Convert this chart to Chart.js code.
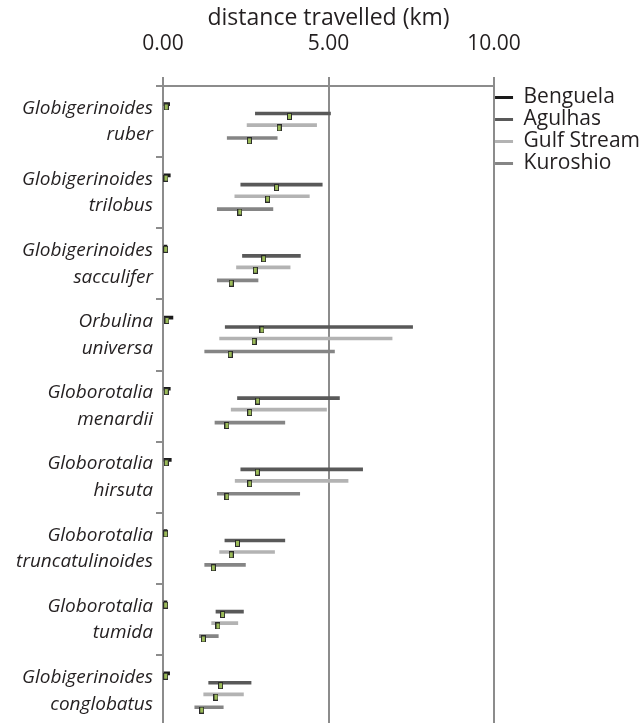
<!DOCTYPE html>
<html>
<head>
<meta charset="utf-8">
<script src="https://cdn.jsdelivr.net/npm/chart.js@4/dist/chart.umd.min.js"></script>
<style>
  html, body { margin: 0; padding: 0; background: #fff; overflow: hidden; }
  canvas { display: block; }
</style>
</head>
<body>
<canvas id="chart" width="639" height="756"></canvas>
<script>
// species (two-line labels)
const species = [
  ["Globigerinoides", "ruber"],
  ["Globigerinoides", "trilobus"],
  ["Globigerinoides", "sacculifer"],
  ["Orbulina", "universa"],
  ["Globorotalia", "menardii"],
  ["Globorotalia", "hirsuta"],
  ["Globorotalia", "truncatulinoides"],
  ["Globorotalia", "tumida"],
  ["Globigerinoides", "conglobatus"]
];
const currents = ["Benguela", "Agulhas", "Gulf Stream", "Kuroshio"];

// distance travelled (km): range min / max and the marker value
const benguelaMin  = [0.03, 0.03, 0.03, 0.04, 0.03, 0.03, 0.03, 0.03, 0.03];
const benguelaMax  = [0.20, 0.22, 0.12, 0.30, 0.22, 0.25, 0.12, 0.12, 0.20];
const benguelaMean = [0.10, 0.09, 0.08, 0.12, 0.10, 0.10, 0.08, 0.08, 0.08];

const agulhasMin  = [2.79, 2.35, 2.40, 1.88, 2.25, 2.35, 1.87, 1.60, 1.38];
const agulhasMax  = [5.06, 4.81, 4.15, 7.54, 5.33, 6.03, 3.68, 2.43, 2.66];
const agulhasMean = [3.82, 3.43, 3.04, 2.99, 2.86, 2.85, 2.25, 1.80, 1.74];

const gulfMin  = [2.54, 2.17, 2.22, 1.71, 2.06, 2.18, 1.71, 1.47, 1.23];
const gulfMax  = [4.64, 4.42, 3.84, 6.92, 4.94, 5.59, 3.37, 2.26, 2.43];
const gulfMean = [3.51, 3.16, 2.79, 2.75, 2.62, 2.62, 2.06, 1.66, 1.60];

const kuroshioMin  = [1.94, 1.64, 1.64, 1.26, 1.57, 1.64, 1.26, 1.10, 0.96];
const kuroshioMax  = [3.45, 3.32, 2.87, 5.18, 3.68, 4.13, 2.49, 1.67, 1.82];
const kuroshioMean = [2.61, 2.32, 2.06, 2.03, 1.93, 1.93, 1.52, 1.22, 1.17];

const xTicks = [0, 5, 10];

// styling
const lineColors = ["#1a1a1a", "#595959", "#b3b3b3", "#858585"];
const slot = [0.255, 0.387, 0.549, 0.731];   // where each current sits inside a species band
const markerDrop = 0.04;
const axisGray = "#8c8c8c";
const textColor = "#231f20";
const fam = "'Open Sans', sans-serif";

const mins = [benguelaMin, agulhasMin, gulfMin, kuroshioMin];
const maxs = [benguelaMax, agulhasMax, gulfMax, kuroshioMax];
const means = [benguelaMean, agulhasMean, gulfMean, kuroshioMean];

// little green box used as marker
const marker = document.createElement("canvas");
marker.width = 5;
marker.height = 7;
const mctx = marker.getContext("2d");
mctx.fillStyle = "#2b2b2b";
mctx.fillRect(0, 0, 5, 7);
mctx.fillStyle = "#9bbb59";
mctx.fillRect(1, 1, 3, 5);

const datasets = [];
currents.forEach((name, s) => {
  datasets.push({
    type: "bar",
    label: name,
    indexAxis: "y",
    xAxisID: "x",
    yAxisID: "pos",
    data: species.map((sp, i) => ({ x: [mins[s][i], maxs[s][i]], y: i + slot[s] })),
    backgroundColor: lineColors[s],
    borderWidth: 0,
    barThickness: 3,
    grouped: false,
    order: 2
  });
});
currents.forEach((name, s) => {
  datasets.push({
    type: "scatter",
    label: name + " mean",
    xAxisID: "x",
    yAxisID: "pos",
    data: species.map((sp, i) => ({ x: means[s][i], y: i + slot[s] + markerDrop })),
    pointStyle: marker,
    order: 1
  });
});

new Chart(document.getElementById("chart"), {
  data: { datasets: datasets },
  options: {
    responsive: false,
    devicePixelRatio: 1,
    animation: false,
    layout: { padding: { top: 0, left: 0, right: -11, bottom: 4 } },
    plugins: {
      tooltip: { enabled: false },
      legend: {
        position: "right",
        align: "start",
        fullSize: false,
        labels: {
          filter: item => item.datasetIndex < 4,
          boxWidth: 18,
          boxHeight: 3,
          padding: 1,
          color: textColor,
          font: { family: fam, size: 21 }
        }
      }
    },
    scales: {
      x: {
        type: "linear",
        position: "top",
        min: 0,
        max: 10,
        afterBuildTicks: scale => { scale.ticks = xTicks.map(v => ({ value: v })); },
        afterFit: scale => { scale.height = 86; },
        title: {
          display: true,
          text: "distance travelled (km)",
          color: textColor,
          font: { family: fam, size: 23 },
          padding: { top: 5, bottom: 0 }
        },
        ticks: {
          color: textColor,
          padding: 20,
          font: { family: fam, size: 21 },
          callback: v => v.toFixed(2)
        },
        grid: { color: axisGray, lineWidth: 2, tickLength: 9 },
        border: { color: axisGray, width: 2 }
      },
      y: {
        type: "category",
        labels: species,
        offset: true,
        afterFit: scale => { scale.width = 163; },
        ticks: {
          color: textColor,
          padding: 3,
          font: { family: fam, size: 19, style: "italic", lineHeight: 1.4 }
        },
        grid: { drawOnChartArea: false, offset: true, color: axisGray, lineWidth: 2, tickLength: 7 },
        border: { color: axisGray, width: 2 }
      },
      pos: {
        type: "linear",
        display: false,
        reverse: true,
        offset: false,
        grid: { offset: false },
        min: 0,
        max: 9
      }
    }
  }
});
</script>
</body>
</html>
